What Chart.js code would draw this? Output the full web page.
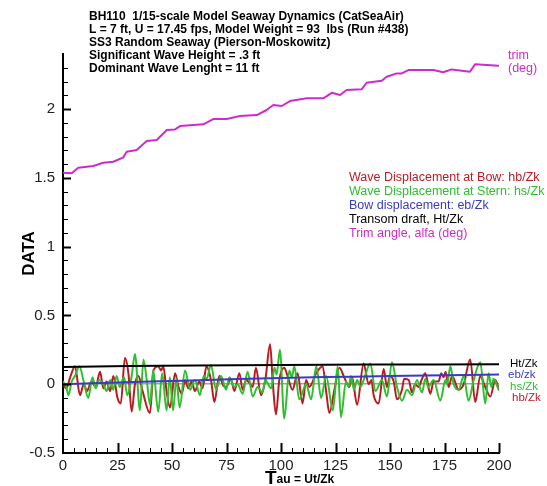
<!DOCTYPE html>
<html><head><meta charset="utf-8">
<script src="https://cdn.jsdelivr.net/npm/chart.js@4/dist/chart.umd.min.js"></script>
<style>html,body{margin:0;padding:0;background:#fff;}canvas{display:block;}</style>
</head><body>
<canvas id="c" width="547" height="486"></canvas>
<script>
// ---------- data ----------
const xTickValues = [0, 25, 50, 75, 100, 125, 150, 175, 200];
const yTickValues = [-0.5, 0, 0.5, 1, 1.5, 2];

const titleLines = [
  'BH110  1/15-scale Model Seaway Dynamics (CatSeaAir)',
  'L = 7 ft, U = 17.45 fps, Model Weight = 93  lbs (Run #438)',
  'SS3 Random Seaway (Pierson-Moskowitz)',
  'Significant Wave Height = .3 ft',
  'Dominant Wave Lenght = 11 ft'
];
const legendTexts = [
  'Wave Displacement at Bow: hb/Zk',
  'Wave Displacement at Stern: hs/Zk',
  'Bow displacement: eb/Zk',
  'Transom draft, Ht/Zk',
  'Trim angle, alfa (deg)'
];
const seriesNames = ['hb/Zk', 'hs/Zk', 'eb/zk', 'Ht/Zk', 'trim'];

const trimTau = [0, 4.0, 7.0, 13.9, 18.5, 23.1, 27.7, 29.2, 33.8, 38.4, 43.0, 47.6, 51.4, 53.7, 64.4, 68.9, 75.1, 81.2, 88.9, 93.4, 96.5, 100.3, 104.1, 111.8, 119.4, 123.3, 127.1, 130.1, 137.0, 139.3, 146.2, 148.5, 153.1, 155.4, 158.4, 169.9, 174.4, 178.3, 186.7, 189.0, 194.4, 199.7];
const trimVal = [1.537, 1.533, 1.573, 1.586, 1.610, 1.617, 1.649, 1.690, 1.702, 1.767, 1.775, 1.847, 1.852, 1.876, 1.889, 1.927, 1.927, 1.949, 1.956, 1.993, 2.029, 2.022, 2.058, 2.078, 2.078, 2.118, 2.102, 2.138, 2.143, 2.191, 2.206, 2.235, 2.259, 2.259, 2.283, 2.283, 2.267, 2.288, 2.271, 2.325, 2.320, 2.315];

const hbTau = [0, 1.5, 3.5, 5.5, 7.8, 9.5, 11, 13, 15, 17, 18.5, 20, 21.6, 23.1, 25, 26.5, 28.4, 30, 31.5, 33, 34.6, 36.5, 39.9, 41.5, 43.7, 45, 46, 47.5, 49.1, 51.4, 53, 54.5, 56, 57.5, 59, 60.5, 62.5, 64, 65.8, 68, 69.4, 71.7, 73.5, 74.8, 77, 78.6, 80.9, 82.4, 84, 85.5, 87, 88.5, 90.8, 92.8, 95, 96.2, 97.7, 99.2, 101.5, 103, 105.3, 107.6, 109.9, 111.5, 113, 116.2, 119.1, 120.7, 122.2, 124.5, 126.8, 129, 131.3, 132.6, 134.9, 137.9, 140.2, 141.5, 142.5, 144.8, 147.1, 148.6, 150, 151.7, 153.2, 155.5, 156.5, 158.6, 160.1, 161.5, 163.1, 164.7, 166.2, 168.5, 170, 172.3, 173.5, 174.6, 175.5, 176.9, 178.5, 181.5, 183.8, 186.8, 189.1, 191.4, 193.7, 196, 198.3, 200];
const hbVal = [0.0, -0.03, 0.06, 0.13, -0.08, 0.0, -0.05, 0.02, -0.02, 0.09, -0.03, 0.02, -0.05, 0.06, -0.1, -0.14, 0.19, 0.08, -0.2, 0.0, 0.06, -0.05, -0.21, 0.1, 0.13, 0.1, 0.13, -0.05, -0.17, 0.08, -0.02, -0.07, 0.03, -0.03, 0.02, -0.05, 0.02, -0.03, 0.13, 0.02, -0.13, 0.06, -0.01, -0.02, 0.04, -0.05, 0.08, -0.04, 0.03, 0.01, -0.02, 0.12, -0.08, 0.03, 0.29, 0.02, -0.22, 0.03, 0.12, 0.06, -0.04, 0.08, -0.14, 0.03, -0.02, 0.08, 0.13, -0.05, -0.21, -0.04, 0.12, 0.05, -0.02, 0.05, -0.15, 0.15, 0.0, 0.03, -0.08, -0.14, 0.11, -0.02, 0.06, 0.02, -0.11, -0.04, 0.04, 0.03, -0.06, 0.0, -0.02, 0.04, 0.08, -0.07, 0.02, 0.02, 0.08, 0.05, 0.09, -0.02, 0.06, -0.04, 0.0, 0.18, -0.13, 0.06, -0.02, -0.09, 0.03, -0.04];

const hsTau = [0, 1.5, 2.5, 4, 5.5, 7.5, 9.5, 11.6, 13.5, 15, 16.5, 18.5, 20, 21.6, 23, 24.6, 26, 28, 29.5, 31.5, 33, 35.3, 36.9, 38.5, 39.9, 41.4, 43.7, 45.5, 47.5, 49, 50.5, 52, 53.5, 56, 58.3, 60.5, 62.8, 64.5, 65.9, 67.9, 70.2, 72.5, 74.8, 76.3, 78.6, 80.1, 82.4, 84.7, 87, 89.3, 91.5, 92.8, 95.5, 97, 98, 99.5, 101.5, 103.8, 105, 106.1, 108.4, 111.5, 113.8, 116.2, 118.4, 120.7, 123.8, 126, 127.5, 129.8, 131, 132.1, 133.5, 134.9, 136.5, 137.9, 141, 143.3, 146.3, 148.6, 150.9, 153.2, 155.5, 157.8, 160.1, 162.4, 164.7, 166.2, 167.5, 170, 173.1, 175.4, 176.2, 177.7, 179.2, 181.5, 183.8, 186, 188.4, 191.4, 193.7, 195.2, 196.5, 197.5, 199.8];
const hsVal = [0.02, -0.02, -0.08, 0.02, 0.06, 0.13, 0.02, -0.1, 0.05, -0.03, 0.03, 0.0, -0.05, 0.03, -0.04, 0.06, -0.02, 0.05, -0.08, 0.06, 0.22, -0.19, 0.18, 0.02, -0.15, 0.1, -0.2, 0.08, -0.19, 0.05, -0.19, 0.04, -0.17, 0.1, -0.04, 0.03, -0.08, 0.06, 0.04, 0.14, -0.04, 0.06, -0.04, 0.05, -0.02, 0.0, -0.07, 0.09, -0.09, -0.02, -0.06, 0.03, -0.03, 0.12, 0.07, 0.25, -0.25, 0.1, 0.05, 0.13, -0.11, 0.0, -0.11, 0.13, -0.1, 0.06, -0.19, 0.13, -0.24, 0.02, -0.02, 0.06, -0.04, 0.03, -0.02, 0.03, 0.15, -0.05, 0.03, -0.09, 0.16, -0.02, -0.12, -0.04, -0.08, 0.03, -0.06, 0.04, -0.02, 0.03, -0.12, 0.03, 0.0, 0.13, 0.0, -0.04, 0.06, -0.12, 0.03, 0.16, -0.14, 0.08, -0.02, 0.04, -0.04];

const ebTau = [0, 10, 25, 40, 55, 66, 80, 100, 120, 133, 150, 166, 185, 200];
const ebVal = [0.0, 0.005, 0.012, 0.02, 0.025, 0.03, 0.037, 0.045, 0.052, 0.055, 0.06, 0.063, 0.067, 0.07];

const htTau = [0, 30, 60, 100, 140, 170, 200];
const htVal = [0.125, 0.132, 0.136, 0.14, 0.143, 0.144, 0.145];

// ---------- styles ----------
const FONT = "'Liberation Sans', Arial, Helvetica, sans-serif";
const C_RED = '#bb1a22', C_GREEN = '#2fc02f', C_BLUE = '#3a3ac4', C_BLACK = '#000000', C_MAG = '#cc2ccc';
const legendColors = [C_RED, C_GREEN, C_BLUE, C_BLACK, C_MAG];

function pts(t, v) { return t.map((x, i) => ({ x: x, y: v[i] })); }

const decor = {
  id: 'decor',
  afterDraw(chart) {
    const { ctx, chartArea: a, scales: { x, y } } = chart;
    ctx.save();
    ctx.strokeStyle = '#000';
    // inward y tick marks
    for (let i = -4; i <= 23; i++) {
      const p = Math.round(y.getPixelForValue(i / 10)) + 0.5;
      const major = i % 5 === 0;
      ctx.lineWidth = major ? 2 : 1;
      ctx.beginPath(); ctx.moveTo(a.left, p); ctx.lineTo(a.left + (major ? 8 : 5), p); ctx.stroke();
    }
    // inward x tick marks
    for (let i = 1; i <= 40; i++) {
      const v = i * 5;
      const p = Math.round(x.getPixelForValue(v)) + 0.5;
      const major = v % 25 === 0;
      ctx.lineWidth = major ? 2 : 1;
      ctx.beginPath(); ctx.moveTo(p, a.bottom); ctx.lineTo(p, a.bottom - (major ? 10 : 5)); ctx.stroke();
    }
    // title block
    ctx.fillStyle = '#000';
    ctx.textAlign = 'left';
    ctx.textBaseline = 'alphabetic';
    ctx.font = 'bold 12px ' + FONT;
    titleLines.forEach((t, i) => ctx.fillText(t, 89, 20 + i * 13));
    // legend block
    ctx.font = '12.5px ' + FONT;
    ctx.textBaseline = 'middle';
    legendTexts.forEach((t, i) => { ctx.fillStyle = legendColors[i]; ctx.fillText(t, 349, 178 + i * 14); });
    // right-side series labels
    ctx.fillStyle = C_MAG;
    ctx.fillText('trim', 508, 56);
    ctx.fillText('(deg)', 508, 69);
    ctx.font = '11.5px ' + FONT;
    ctx.fillStyle = C_BLACK; ctx.fillText(seriesNames[3], 510, 363.5);
    ctx.fillStyle = C_BLUE; ctx.fillText(seriesNames[2], 508, 375);
    ctx.fillStyle = C_GREEN; ctx.fillText(seriesNames[1], 510, 386.5);
    ctx.fillStyle = C_RED; ctx.fillText(seriesNames[0], 512, 398);
    // x axis title with large T
    ctx.fillStyle = '#000';
    ctx.textBaseline = 'alphabetic';
    ctx.font = 'bold 19px ' + FONT;
    ctx.fillText('T', 265, 484);
    const tw = ctx.measureText('T').width;
    ctx.font = 'bold 12px ' + FONT;
    ctx.fillText('au = Ut/Zk', 265 + tw, 483);
    ctx.restore();
  }
};

new Chart(document.getElementById('c'), {
  type: 'line',
  data: {
    datasets: [
      { label: seriesNames[3], data: pts(htTau, htVal), borderColor: C_BLACK, borderWidth: 2, tension: 0 },
      { label: seriesNames[2], data: pts(ebTau, ebVal), borderColor: C_BLUE, borderWidth: 2, tension: 0 },
      { label: seriesNames[1], data: pts(hsTau, hsVal), borderColor: C_GREEN, borderWidth: 2, cubicInterpolationMode: 'monotone' },
      { label: seriesNames[0], data: pts(hbTau, hbVal), borderColor: C_RED, borderWidth: 2, cubicInterpolationMode: 'monotone' },
      { label: seriesNames[4], data: pts(trimTau, trimVal), borderColor: C_MAG, borderWidth: 2, tension: 0 }
    ]
  },
  options: {
    responsive: false,
    animation: false,
    devicePixelRatio: 1,
    parsing: true,
    layout: { padding: { top: 54, right: 48, bottom: 0, left: 0 } },
    plugins: { legend: { display: false }, tooltip: { enabled: false }, title: { display: false } },
    elements: { point: { radius: 0, hoverRadius: 0 }, line: { borderCapStyle: 'round', borderJoinStyle: 'round' } },
    scales: {
      x: {
        type: 'linear', min: 0, max: 200,
        afterFit: s => { s.height = 33; },
        afterBuildTicks: s => { s.ticks = xTickValues.map(v => ({ value: v })); },
        grid: { display: true, drawOnChartArea: false, drawTicks: false, color: 'rgba(0,0,0,0)' },
        border: { display: true, color: '#000', width: 2 },
        ticks: { color: '#222', font: { family: FONT, size: 15 }, padding: 4, maxRotation: 0, autoSkip: false,
                 callback: v => String(v) }
      },
      y: {
        type: 'linear', min: -0.5, max: 2.4,
        afterFit: s => { s.width = 63; },
        afterBuildTicks: s => { s.ticks = yTickValues.map(v => ({ value: v })); },
        grid: { display: true, drawOnChartArea: true, drawTicks: false,
                color: c => (c.tick && c.tick.value === 0) ? '#a0a0a0' : 'rgba(0,0,0,0)', lineWidth: 1.5 },
        border: { display: true, color: '#000', width: 2 },
        ticks: { color: '#222', font: { family: FONT, size: 15 }, padding: 8, autoSkip: false,
                 callback: v => String(v) },
        title: { display: true, text: 'DATA', color: '#000', font: { family: FONT, size: 17, weight: 'bold' },
                 padding: { top: 19, bottom: 0 } }
      }
    }
  },
  plugins: [decor]
});
</script>
</body></html>
